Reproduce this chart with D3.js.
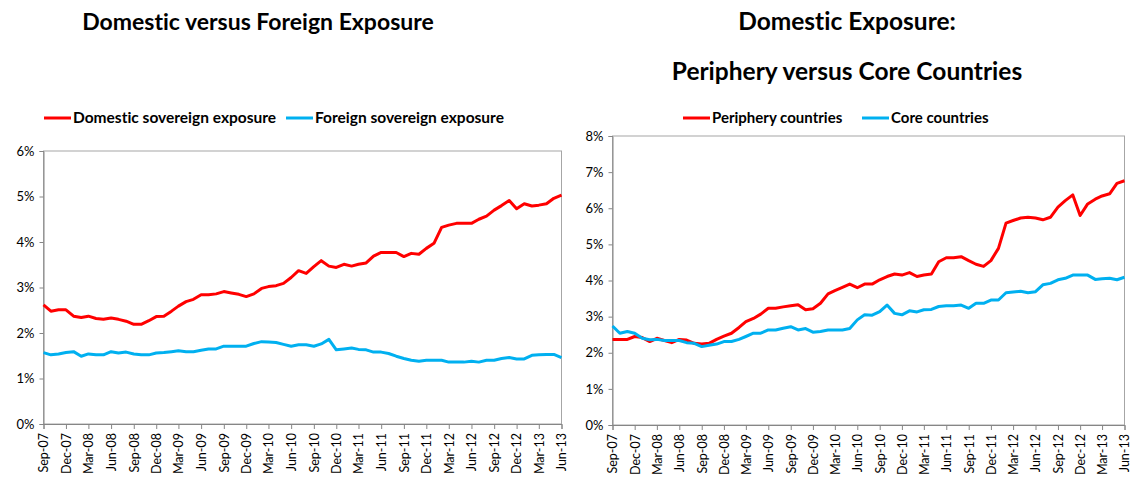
<!DOCTYPE html>
<html>
<head>
<meta charset="utf-8">
<script src="https://cdn.jsdelivr.net/npm/d3@7"></script>
<style>
  body { margin: 0; background: #fff; }
  text { font-family: Lato, "Open Sans", sans-serif; font-variant-ligatures: none; }
</style>
</head>
<body>
<div class="svgcontainer"></div>
<script>
// quarterly tick labels (x axis)
const tickLabels = ['Sep-07', 'Dec-07', 'Mar-08', 'Jun-08', 'Sep-08', 'Dec-08',
  'Mar-09', 'Jun-09', 'Sep-09', 'Dec-09', 'Mar-10', 'Jun-10', 'Sep-10', 'Dec-10',
  'Mar-11', 'Jun-11', 'Sep-11', 'Dec-11', 'Mar-12', 'Jun-12', 'Sep-12', 'Dec-12',
  'Mar-13', 'Jun-13'];

// monthly observations, Sep-07 .. Jun-13 (percent)
const domestic = [2.62, 2.48, 2.51, 2.51, 2.37, 2.34, 2.37, 2.32, 2.30, 2.33,
  2.30, 2.26, 2.19, 2.19, 2.27, 2.36, 2.37, 2.48, 2.59, 2.69,
  2.74, 2.84, 2.84, 2.86, 2.91, 2.88, 2.85, 2.80, 2.86, 2.98,
  3.02, 3.04, 3.09, 3.22, 3.37, 3.31, 3.46, 3.59, 3.47, 3.44,
  3.51, 3.47, 3.51, 3.54, 3.69, 3.77, 3.77, 3.77, 3.68, 3.75,
  3.73, 3.86, 3.97, 4.32, 4.37, 4.41, 4.41, 4.41, 4.50, 4.57,
  4.70, 4.80, 4.91, 4.73, 4.84, 4.79, 4.81, 4.84, 4.96, 5.03];

const foreign = [1.57, 1.52, 1.54, 1.57, 1.59, 1.49, 1.54, 1.52, 1.52, 1.59,
  1.56, 1.58, 1.54, 1.52, 1.52, 1.56, 1.57, 1.59, 1.61, 1.59,
  1.59, 1.62, 1.65, 1.65, 1.71, 1.71, 1.71, 1.71, 1.77, 1.81,
  1.80, 1.79, 1.75, 1.71, 1.74, 1.74, 1.71, 1.76, 1.86, 1.63,
  1.65, 1.67, 1.64, 1.63, 1.58, 1.58, 1.55, 1.49, 1.44, 1.40,
  1.38, 1.40, 1.40, 1.40, 1.36, 1.36, 1.36, 1.38, 1.36, 1.40,
  1.40, 1.44, 1.46, 1.43, 1.43, 1.51, 1.52, 1.53, 1.53, 1.46];

const periphery = [2.37, 2.37, 2.37, 2.45, 2.42, 2.31, 2.40, 2.34, 2.28, 2.37,
  2.35, 2.26, 2.24, 2.26, 2.37, 2.46, 2.54, 2.70, 2.86, 2.95,
  3.07, 3.23, 3.23, 3.27, 3.30, 3.33, 3.19, 3.22, 3.37, 3.63,
  3.72, 3.81, 3.90, 3.80, 3.90, 3.90, 4.02, 4.11, 4.18, 4.15,
  4.22, 4.11, 4.15, 4.18, 4.52, 4.63, 4.63, 4.66, 4.55, 4.45,
  4.39, 4.55, 4.89, 5.59, 5.66, 5.73, 5.75, 5.73, 5.68, 5.75,
  6.03, 6.21, 6.37, 5.80, 6.12, 6.25, 6.34, 6.40, 6.69, 6.76];

const core = [2.74, 2.54, 2.59, 2.54, 2.40, 2.36, 2.37, 2.34, 2.34, 2.34,
  2.28, 2.26, 2.17, 2.21, 2.24, 2.31, 2.31, 2.37, 2.45, 2.54,
  2.54, 2.63, 2.63, 2.68, 2.72, 2.63, 2.67, 2.57, 2.59, 2.63,
  2.63, 2.63, 2.67, 2.91, 3.05, 3.04, 3.14, 3.32, 3.09, 3.05,
  3.16, 3.13, 3.19, 3.20, 3.28, 3.30, 3.30, 3.32, 3.23, 3.37,
  3.37, 3.46, 3.46, 3.66, 3.68, 3.70, 3.66, 3.69, 3.88, 3.92,
  4.02, 4.06, 4.15, 4.15, 4.15, 4.03, 4.05, 4.06, 4.02, 4.09];

const leftTicks = [0, 1, 2, 3, 4, 5, 6];
const rightTicks = [0, 1, 2, 3, 4, 5, 6, 7, 8];

const parseTick = d3.timeParse('%b-%y');
const months = d3.timeMonth.range(parseTick('Sep-07'), d3.timeMonth.offset(parseTick('Jun-13'), 1));

const RED = '#ff0000';
const BLUE = '#00b0f0';

const svg = d3
  .select('.svgcontainer')
  .append('svg')
  .attr('width', 1131)
  .attr('height', 483);

function drawPanel(cfg) {
  const x = d3
    .scaleTime()
    .domain([months[0], months[months.length - 1]])
    .range([cfg.left, cfg.right]);
  const y = d3
    .scaleLinear()
    .domain([0, cfg.max])
    .range([cfg.bottom, cfg.top]);

  const g = svg.append('g');

  // plot area border
  g.append('rect')
    .attr('x', cfg.left)
    .attr('y', cfg.top)
    .attr('width', cfg.right - cfg.left)
    .attr('height', cfg.bottom - cfg.top)
    .attr('fill', 'none')
    .attr('stroke', '#a6a6a6')
    .attr('stroke-width', 1);

  const yAxis = g
    .append('g')
    .attr('transform', `translate(${cfg.left},0)`)
    .call(
      d3.axisLeft(y)
        .tickValues(cfg.ticks)
        .tickSize(4)
        .tickPadding(5)
        .tickFormat(d => d + '%'),
    );
  yAxis.select('.domain').attr('stroke', '#868686');
  yAxis.selectAll('.tick line').attr('stroke', '#868686');
  yAxis.selectAll('.tick text')
    .attr('fill', '#000')
    .style('font-size', '13px');

  const xAxis = g
    .append('g')
    .attr('transform', `translate(0,${cfg.bottom})`)
    .call(
      d3.axisBottom(x)
        .tickValues(tickLabels.map(parseTick))
        .tickSize(5)
        .tickFormat(d3.timeFormat('%b-%y')),
    );
  xAxis.select('.domain').attr('stroke', '#868686');
  xAxis.selectAll('.tick line').attr('stroke', '#868686');
  xAxis.selectAll('.tick text')
    .attr('fill', '#000')
    .style('font-size', '12.5px')
    .attr('transform', 'rotate(-90)')
    .attr('text-anchor', 'end')
    .attr('x', -9)
    .attr('y', 0)
    .attr('dy', '0.35em');

  const line = d3
    .line()
    .x((d, i) => x(months[i]))
    .y(d => y(d));

  cfg.series.forEach(function(s) {
    g.append('path')
      .datum(s.values)
      .attr('fill', 'none')
      .attr('stroke', s.color)
      .attr('stroke-width', 3)
      .attr('stroke-linejoin', 'round')
      .attr('d', line);
  });

  // legend
  const leg = g.selectAll('.legend')
    .data(cfg.series)
    .enter()
    .append('g')
    .attr('class', 'legend')
    .attr('transform', (d, i) => `translate(${cfg.legendX[i]},${cfg.legendY})`);
  leg.append('line')
    .attr('x1', 0)
    .attr('x2', 27)
    .attr('y1', 0)
    .attr('y2', 0)
    .attr('stroke', d => d.color)
    .attr('stroke-width', 3);
  leg.append('text')
    .attr('x', 29)
    .attr('y', 0)
    .attr('dy', '0.35em')
    .style('font-size', cfg.legendSize)
    .style('font-weight', 'bold')
    .text(d => d.name);

  // titles
  cfg.title.forEach(function(t, i) {
    g.append('text')
      .attr('x', cfg.titleX)
      .attr('y', 30 + i * 50)
      .attr('text-anchor', 'middle')
      .style('font-size', cfg.titleSize)
      .style('font-weight', 'bold')
      .text(t);
  });
}

drawPanel({
  left: 43.5, right: 561.5, top: 151, bottom: 424, max: 6,
  ticks: leftTicks,
  series: [
    {name: 'Domestic sovereign exposure', values: domestic, color: RED},
    {name: 'Foreign sovereign exposure', values: foreign, color: BLUE},
  ],
  legendX: [44, 286], legendY: 118, legendSize: '15.5px',
  title: ['Domestic versus Foreign Exposure'], titleX: 258, titleSize: '23px',
});

drawPanel({
  left: 612.5, right: 1124.5, top: 136, bottom: 425, max: 8,
  ticks: rightTicks,
  series: [
    {name: 'Periphery countries', values: periphery, color: RED},
    {name: 'Core countries', values: core, color: BLUE},
  ],
  legendX: [683, 862], legendY: 118, legendSize: '15px',
  title: ['Domestic Exposure:', 'Periphery versus Core Countries'], titleX: 847, titleSize: '24.5px',
});
</script>
</body>
</html>
